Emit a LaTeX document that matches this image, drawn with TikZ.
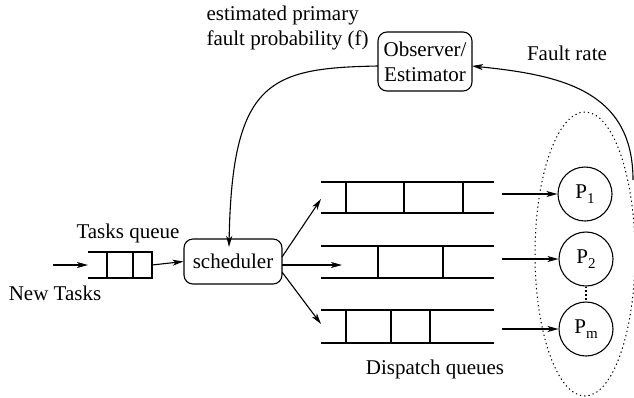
\documentclass[tikz,border=0pt]{standalone}
\usepackage{fontspec}
\setmainfont{Liberation Serif}
\newfontfamily\timesfam{Liberation Serif}
\usetikzlibrary{arrows.meta}
\newcommand{\proc}[1]{P\raisebox{-0.45ex}{\fontsize{15}{15}\selectfont #1}}
\begin{document}
\begin{tikzpicture}[x=1pt,y=-1pt,
  line width=1.1pt,
  font=\timesfam\fontsize{21}{25}\selectfont,
  every node/.style={inner sep=0pt},
  arr/.style={-{Stealth[length=11pt,width=6pt,inset=3pt]}},
  roundbox/.style={draw,rounded corners=9pt},
  procnode/.style={draw,circle,minimum size=54pt},
  qline/.style={line width=1.1pt}]
\useasboundingbox (0,0) rectangle (634,397);

% labels
\node[anchor=west,align=left] (est) at (206,28) {estimated primary\\fault probability (f)};
\node (fr) at (567,53) {Fault rate};
\node (tq) at (128,233) {Tasks queue};
\node (nt) at (55,293) {New Tasks};
\node (dq) at (435,369) {Dispatch queues};

% observer and scheduler
\node[roundbox,minimum width=94pt,minimum height=59pt,align=center] (obs) at (425,61.5) {Observer/\\Estimator};
\node[roundbox,minimum width=98pt,minimum height=45pt] (sch) at (233,261.5) {scheduler};

% processors
\node[procnode] (p1) at (585,194) {\proc{1}};
\node[procnode] (p2) at (586,259) {\proc{2}};
\node[procnode] (pm) at (586,329) {\proc{m}};
\draw[dash pattern=on 1.3pt off 2.6pt] (p2.south) -- (pm.north);
\draw[dash pattern=on 1.3pt off 3pt,line width=1pt] (585,254) ellipse [x radius=50, y radius=142];

% incoming tasks queue
\draw[qline] (88,252) -- (152,252) -- (152,278) -- (88,278);
\draw[qline] (107,252) -- (107,278) (133,252) -- (133,278);
\coordinate (newin) at (53,265);
\coordinate (tqin) at (88,265);
\coordinate (tqout) at (152,265);
\draw[arr] (newin) -- (tqin);
\draw[arr] (tqout) -- (sch.west);

% dispatch queues
\draw[qline] (321,182) -- (494,182) (321,213) -- (494,213);
\draw[qline] (346,182) -- (346,213) (404,182) -- (404,213) (463,182) -- (463,213);
\draw[qline] (321,246) -- (494,246) (321,278) -- (494,278);
\draw[qline] (378,246) -- (378,278) (443,246) -- (443,278);
\draw[qline] (321,310) -- (494,310) (321,343) -- (494,343);
\draw[qline] (346,310) -- (346,343) (391,310) -- (391,343) (430,310) -- (430,343);

\coordinate (s1) at (282,257);
\coordinate (s2) at (282,265);
\coordinate (s3) at (282,272);
\coordinate (q1in) at (321,199);
\coordinate (q2in) at (342,265);
\coordinate (q3in) at (321,324);
\draw[arr] (s1) -- (q1in);
\draw[arr] (s2) -- (q2in);
\draw[arr] (s3) -- (q3in);

\coordinate (q1out) at (502,194);
\coordinate (q2out) at (502,259);
\coordinate (q3out) at (502,329);
\draw[arr] (q1out) -- (p1.west);
\draw[arr] (q2out) -- (p2.west);
\draw[arr] (q3out) -- (pm.west);

% feedback loop
\coordinate (obsl) at (378,66);
\coordinate (schtop) at (229,247);
\draw[arr] (obsl) .. controls (270,68) and (232,80) .. (schtop);
\coordinate (frout) at (633,180);
\coordinate (obsr) at (472,66);
\draw[arr] (frout) .. controls (633,90) and (560,75) .. (obsr);
\end{tikzpicture}
\end{document}
